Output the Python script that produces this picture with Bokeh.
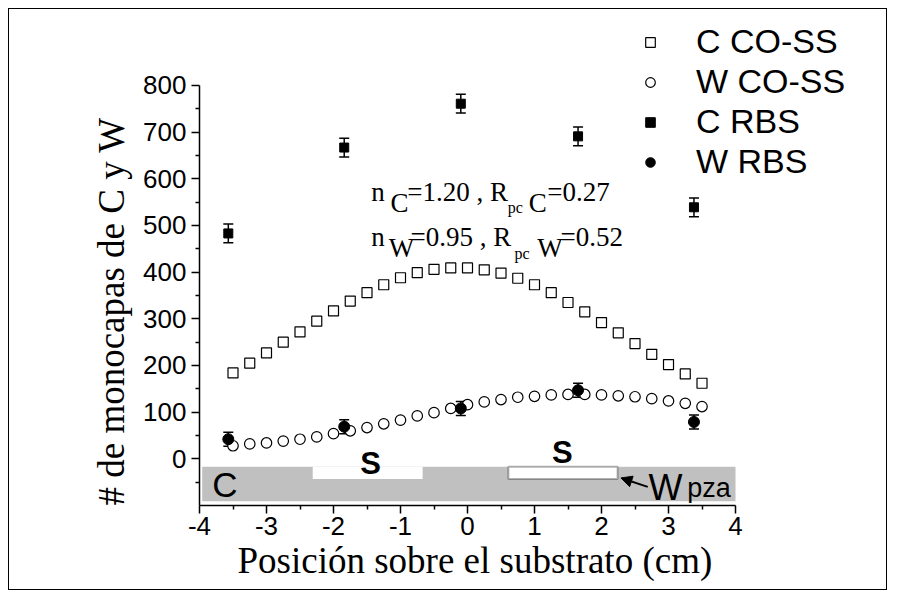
from bokeh.plotting import figure
from bokeh.models import (FixedTicker, Whisker, ColumnDataSource, Legend, LegendItem,
                          Label, BoxAnnotation, Arrow, NormalHead, TeeHead, Title)
from bokeh.embed import file_html
from bokeh.resources import INLINE

# ---- data ----
x_coss = [-3.5, -3.25, -3.0, -2.75, -2.5, -2.25, -2.0, -1.75, -1.5, -1.25, -1.0, -0.75,
          -0.5, -0.25, 0.0, 0.25, 0.5, 0.75, 1.0, 1.25, 1.5, 1.75, 2.0, 2.25, 2.5, 2.75,
          3.0, 3.25, 3.5]
c_coss = [184, 205, 227, 250, 272, 295, 317, 338, 356, 373, 388, 399, 406, 409, 409,
          405, 398, 387, 373, 356, 335, 315, 292, 270, 247, 224, 202, 182, 162]
w_coss = [28, 32, 34, 38, 42, 47, 54, 60, 67, 75, 83, 92, 99, 108, 116, 122, 127, 132,
          134, 137, 138, 138, 137, 135, 133, 129, 124, 119, 112]
x_rbs = [-3.57, -1.84, -0.10, 1.65, 3.38]
c_rbs = [483, 667, 761, 691, 539]
c_rbs_err = [20, 20, 20, 20, 20]
w_rbs = [42, 69, 108, 147, 79]
w_rbs_err = [15, 15, 15, 15, 15]

x_major = [-4, -3, -2, -1, 0, 1, 2, 3, 4]
x_minor = [-3.5, -2.5, -1.5, -0.5, 0.5, 1.5, 2.5, 3.5]
y_major = [0, 100, 200, 300, 400, 500, 600, 700, 800]
y_minor = [-50, 50, 150, 250, 350, 450, 550, 650, 750]

legend_labels = ["C CO-SS", "W CO-SS", "C RBS", "W RBS"]
x_title = "Posición sobre el substrato (cm)"
y_title = "# de monocapas de C y W"

SANS = "Liberation Sans"
SERIF = "Liberation Serif"

# frame is widened/raised beyond the axes (axes use bounds) so the legend is not clipped
p = figure(width=879, height=582, x_range=(-4, 6.164), y_range=(-100, 945.7),
           output_backend="svg", toolbar_location=None,
           min_border_left=190, min_border_right=8, min_border_top=8, min_border_bottom=86)
p.styles = {"border": "1px solid black", "margin-left": "8px", "margin-top": "8px"}
p.grid.visible = False
p.outline_line_color = None
p.background_fill_color = "white"
p.border_fill_color = "white"

for ax in (p.xaxis[0], p.yaxis[0]):
    ax.axis_line_width = 1.5
    ax.major_tick_line_width = 1.5
    ax.minor_tick_line_width = 1.5
    ax.major_tick_in = 0
    ax.major_tick_out = 8
    ax.minor_tick_in = 0
    ax.minor_tick_out = 4
    ax.major_label_text_font = SANS
    ax.major_label_text_font_size = "26px"
    ax.major_label_text_color = "black"

p.xaxis.bounds = (-4, 4)
p.yaxis.bounds = (-100, 800)
p.xaxis.ticker = FixedTicker(ticks=x_major, minor_ticks=x_minor)
p.yaxis.ticker = FixedTicker(ticks=y_major, minor_ticks=y_minor)
p.xaxis.major_label_overrides = {v: str(v) for v in x_major}
p.xaxis.major_label_standoff = 3
p.yaxis.major_label_standoff = 5

# axis titles aligned to the start of the bounded axes
p.add_layout(Title(text=x_title, align="left", offset=38, standoff=0,
                   text_font=SERIF, text_font_size="37px", text_font_style="normal",
                   text_color="black"), "below")
p.add_layout(Title(text=y_title, align="left", offset=0, standoff=14, vertical_align="top",
                   text_line_height=1.6,
                   text_font=SERIF, text_font_size="37px", text_font_style="normal",
                   text_color="black"), "left")

# ---- substrate diagram ----
p.add_layout(BoxAnnotation(left=-3.96, right=4.0, top=-17, bottom=-91,
                           fill_color="#c0c0c0", fill_alpha=1, line_color=None, level="underlay"))
p.add_layout(BoxAnnotation(left=-2.31, right=-0.67, top=-17, bottom=-43,
                           fill_color="white", fill_alpha=1, line_color=None, level="underlay"))
p.add_layout(BoxAnnotation(left=0.61, right=2.24, top=-17, bottom=-43,
                           fill_color="white", fill_alpha=1, line_color="black", line_width=2,
                           level="underlay"))
p.add_layout(Arrow(end=NormalHead(size=11, fill_color="black", line_color="black"),
                   x_start=2.69, y_start=-60, x_end=2.29, y_end=-41,
                   line_width=2, line_color="black"))
p.add_layout(Label(x=-3.81, y=-79, y_offset=11, text="C", text_font=SANS, text_font_size="35px",
                   text_baseline="alphabetic", text_color="black"))
p.add_layout(Label(x=-1.448, y=-32, y_offset=10, text="S", text_font=SANS, text_font_size="31px",
                   text_font_style="bold", text_align="center", text_baseline="alphabetic",
                   text_color="black"))
p.add_layout(Label(x=1.414, y=-8, y_offset=10, text="S", text_font=SANS, text_font_size="31px",
                   text_font_style="bold", text_align="center", text_baseline="alphabetic",
                   text_color="black"))
p.add_layout(Label(x=2.70, y=-81, y_offset=9, text="W", text_font=SANS, text_font_size="36px",
                   text_baseline="alphabetic", text_color="black"))
p.add_layout(Label(x=3.28, y=-81, y_offset=9, text="pza", text_font=SANS, text_font_size="27px",
                   text_baseline="alphabetic", text_color="black"))

# ---- fit annotation ----
ann_x = -1.437
ann_rows = [
    (558, [("n", 0, 0, 27), ("C", 19.3, -10.6, 27), ("=1.20 , R", 36, 0, 27),
           ("pc", 136.6, -13, 16), ("C", 157.6, -10.6, 27), ("=0.27", 176, 0, 27)]),
    (463.5, [("n", 0, 0, 27), ("W", 17.6, -11, 27), ("=0.95 , R", 39.3, 0, 27),
             ("pc", 143.3, -14, 16), ("W", 166, -11, 27), ("=0.52", 189.3, 0, 27)]),
]
for yb, segs in ann_rows:
    for txt, dx, dy, fs in segs:
        p.add_layout(Label(x=ann_x, y=yb, x_offset=dx, y_offset=dy + 0.22 * fs, text=txt,
                           text_font=SERIF, text_font_size=f"{fs}px",
                           text_baseline="alphabetic", text_color="black"))

# ---- data ----
src_coss = ColumnDataSource(dict(x=x_coss, c=c_coss, w=w_coss))
c_lo = [v - e for v, e in zip(c_rbs, c_rbs_err)]
c_hi = [v + e for v, e in zip(c_rbs, c_rbs_err)]
w_lo = [v - e for v, e in zip(w_rbs, w_rbs_err)]
w_hi = [v + e for v, e in zip(w_rbs, w_rbs_err)]
src_rbs = ColumnDataSource(dict(x=x_rbs, c=c_rbs, w=w_rbs, clo=c_lo, chi=c_hi, wlo=w_lo, whi=w_hi))

r1 = p.scatter("x", "c", source=src_coss, marker="square", size=10,
               fill_color="white", line_color="black", line_width=1.2)
r2 = p.scatter("x", "w", source=src_coss, marker="circle", size=10.5,
               fill_color="white", line_color="black", line_width=1.2)
for lo, hi in (("clo", "chi"), ("wlo", "whi")):
    p.add_layout(Whisker(source=src_rbs, base="x", lower=lo, upper=hi, line_width=1.5,
                         line_color="black",
                         lower_head=TeeHead(size=10, line_width=1.5, line_color="black"),
                         upper_head=TeeHead(size=10, line_width=1.5, line_color="black")))
r3 = p.scatter("x", "c", source=src_rbs, marker="square", size=9,
               fill_color="black", line_color="black")
r4 = p.scatter("x", "w", source=src_rbs, marker="circle", size=11,
               fill_color="black", line_color="black")

legend = Legend(items=[LegendItem(label=lab, renderers=[r]) for lab, r in
                       zip(legend_labels, [r1, r2, r3, r4])],
                location=(439, 324), orientation="vertical")
legend.label_text_font = SANS
legend.label_text_font_size = "34px"
legend.label_text_line_height = 1.0
legend.label_text_color = "black"
legend.glyph_width = 24
legend.glyph_height = 24
legend.label_height = 24
legend.label_standoff = 34
legend.spacing = 1
legend.padding = 0
legend.margin = 0
legend.border_line_color = None
legend.background_fill_alpha = 0
p.add_layout(legend, "center")

open("out.html", "w").write(file_html(p, INLINE))
